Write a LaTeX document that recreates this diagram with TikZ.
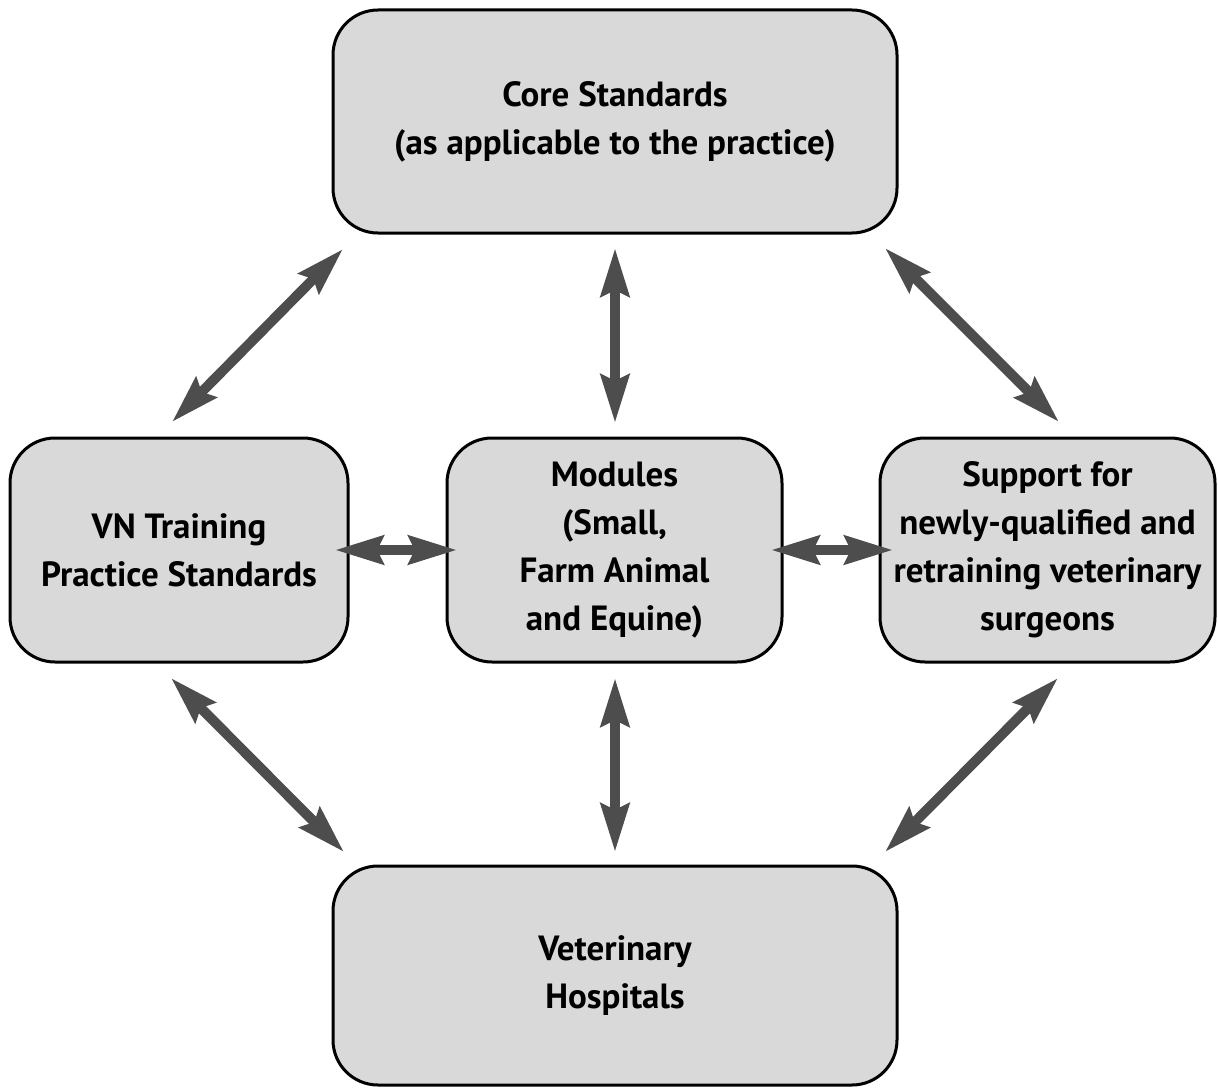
\documentclass[tikz,border=0pt]{standalone}
\usepackage{fontspec}
\setmainfont{PT Sans}
\usetikzlibrary{arrows.meta}
\definecolor{boxfill}{HTML}{D9D9D9}
\definecolor{arrowgray}{HTML}{4D4D4D}
\tikzset{
  box/.style={draw=black, line width=3pt, fill=boxfill, rounded corners=45pt,
    inner sep=0pt, align=center, font=\fontsize{35}{48}\selectfont\bfseries},
  dbl/.style={draw=arrowgray, line width=10pt,
    {Stealth[length=48pt,width=28pt,inset=6pt,fill=arrowgray]}-{Stealth[length=48pt,width=28pt,inset=6pt,fill=arrowgray]}}
}
\begin{document}
\begin{tikzpicture}[x=1pt,y=-1pt]
\useasboundingbox (0,0) rectangle (1218,1089);
\node[box, minimum width=564pt, minimum height=223pt] (top) at (615,121.5) {Core Standards\\(as applicable to the practice)};
\node[box, minimum width=338pt, minimum height=224pt] (left) at (179,550) {VN Training\\Practice Standards};
\node[box, minimum width=335pt, minimum height=224pt] (mid) at (614.5,550) {Modules\\(Small,\\Farm Animal\\and Equine)};
\node[box, minimum width=335pt, minimum height=224pt] (right) at (1047.5,550) {Support for\\newly-qualified and\\retraining veterinary\\surgeons};
\node[box, minimum width=564pt, minimum height=219pt] (bottom) at (615,975.5) {Veterinary\\Hospitals};
% arrow end points
\coordinate (tlA) at (172,422); \coordinate (tlB) at (343,249);
\coordinate (tcA) at (615,248); \coordinate (tcB) at (615,423);
\coordinate (trA) at (885,248); \coordinate (trB) at (1059,422);
\coordinate (lmA) at (335,550); \coordinate (lmB) at (457,550);
\coordinate (mrA) at (771,550); \coordinate (mrB) at (893,550);
\coordinate (blA) at (171,678); \coordinate (blB) at (344,852);
\coordinate (bcA) at (615,678); \coordinate (bcB) at (615,852);
\coordinate (brA) at (1058,678); \coordinate (brB) at (885,852);
\draw[dbl] (tlA) -- (tlB);
\draw[dbl] (tcA) -- (tcB);
\draw[dbl] (trA) -- (trB);
\draw[dbl] (lmA) -- (lmB);
\draw[dbl] (mrA) -- (mrB);
\draw[dbl] (blA) -- (blB);
\draw[dbl] (bcA) -- (bcB);
\draw[dbl] (brA) -- (brB);
\end{tikzpicture}
\end{document}
